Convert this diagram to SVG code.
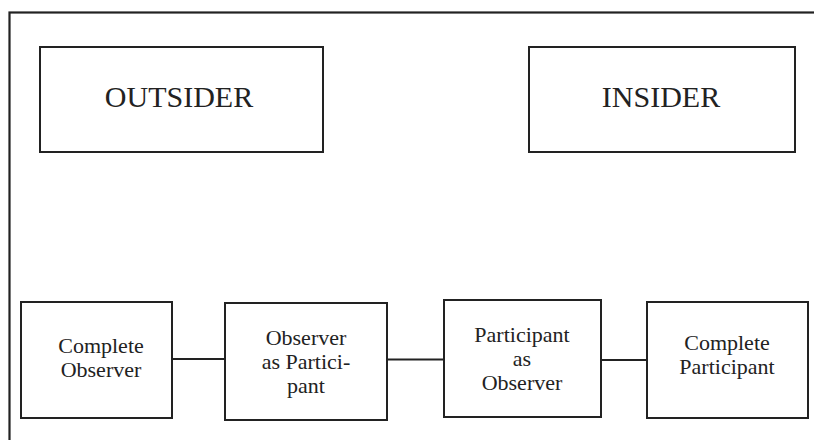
<svg xmlns="http://www.w3.org/2000/svg" width="814" height="440" viewBox="0 0 814 440">
<style>
.box{fill:#fff;stroke:#222;stroke-width:2}
.frame{fill:none;stroke:#222;stroke-width:2.2}
.conn{stroke:#222;stroke-width:2;fill:none}
text{font-family:'Liberation Serif','Times New Roman',serif;fill:#222;text-anchor:middle}
.big{font-size:30px}
.sm{font-size:22px}
</style>
<rect x="0" y="0" width="814" height="440" fill="#fff"/>
<rect class="frame" x="9.5" y="12.5" width="820" height="450"/>
<g id="connectors">
<line class="conn" x1="172" y1="359" x2="225" y2="359"/>
<line class="conn" x1="387" y1="359.5" x2="444" y2="359.5"/>
<line class="conn" x1="601" y1="360" x2="647" y2="360"/>
</g>
<g id="outsider">
<rect class="box" x="40" y="47" width="283" height="105"/>
<text class="big" x="179" y="107">OUTSIDER</text>
</g>
<g id="insider">
<rect class="box" x="529" y="47" width="266" height="105"/>
<text class="big" x="661" y="107">INSIDER</text>
</g>
<g id="complete-observer">
<rect class="box" x="21" y="302" width="151" height="116"/>
<text class="sm" x="101" y="353">Complete</text>
<text class="sm" x="101" y="377">Observer</text>
</g>
<g id="observer-as-participant">
<rect class="box" x="225" y="303" width="162" height="117"/>
<text class="sm" x="306" y="345">Observer</text>
<text class="sm" x="306" y="369">as Partici-</text>
<text class="sm" x="306" y="393">pant</text>
</g>
<g id="participant-as-observer">
<rect class="box" x="444" y="300" width="157" height="117"/>
<text class="sm" x="522" y="342">Participant</text>
<text class="sm" x="522" y="366">as</text>
<text class="sm" x="522" y="390">Observer</text>
</g>
<g id="complete-participant">
<rect class="box" x="647" y="302" width="161" height="116"/>
<text class="sm" x="727" y="350">Complete</text>
<text class="sm" x="727" y="374">Participant</text>
</g>
</svg>
